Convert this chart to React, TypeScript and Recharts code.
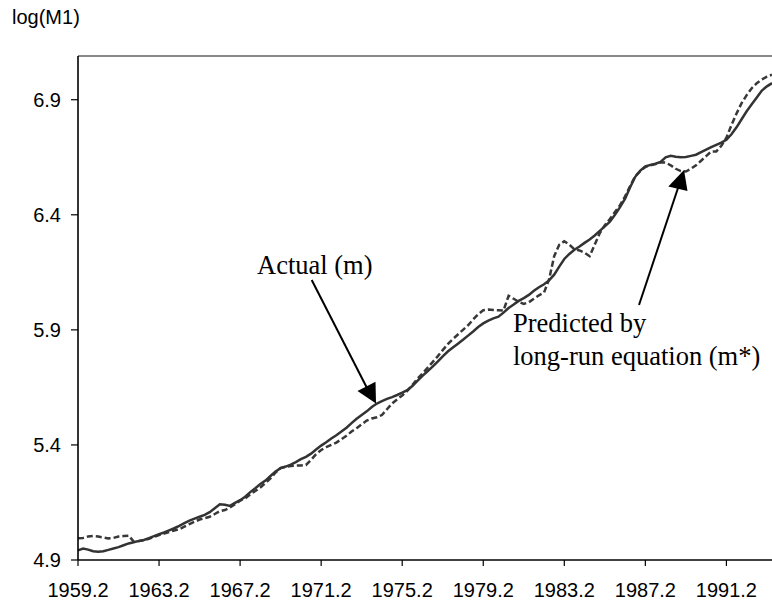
import React from 'react';
import { LineChart, Line, XAxis, YAxis, ReferenceLine } from 'recharts';

// log(M1), quarterly, 1959.2 .. 1993.3
const actual: number[] = [
  4.942, 4.950, 4.945, 4.938, 4.936, 4.938, 4.944, 4.950, 4.956, 4.964,
  4.972, 4.977, 4.983, 4.987, 4.995, 5.004, 5.012, 5.020, 5.029, 5.038,
  5.048, 5.060, 5.071, 5.080, 5.088, 5.096, 5.108, 5.125, 5.142, 5.140,
  5.135, 5.148, 5.160, 5.175, 5.195, 5.212, 5.230, 5.245, 5.265, 5.285,
  5.299, 5.306, 5.314, 5.325, 5.338, 5.348, 5.362, 5.380, 5.397, 5.412,
  5.428, 5.442, 5.458, 5.475, 5.495, 5.514, 5.530, 5.546, 5.565, 5.580,
  5.590, 5.600, 5.608, 5.617, 5.627, 5.638, 5.656, 5.678, 5.700, 5.720,
  5.740, 5.762, 5.785, 5.806, 5.823, 5.840, 5.857, 5.875, 5.893, 5.912,
  5.928, 5.940, 5.950, 5.957, 5.975, 5.995, 6.010, 6.026, 6.038, 6.052,
  6.070, 6.085, 6.098, 6.115, 6.140, 6.175, 6.208, 6.230, 6.248, 6.262,
  6.278, 6.293, 6.310, 6.330, 6.350, 6.370, 6.400, 6.433, 6.470, 6.520,
  6.565, 6.592, 6.610, 6.617, 6.622, 6.630, 6.650, 6.656, 6.652, 6.650,
  6.651, 6.656, 6.661, 6.672, 6.683, 6.694, 6.704, 6.714, 6.726, 6.750,
  6.780, 6.815, 6.850, 6.880, 6.910, 6.940, 6.958, 6.972,
];

const predicted: number[] = [
  4.994, 4.996, 5.002, 5.004, 5.002, 4.998, 4.994, 4.996, 5.002, 5.004,
  5.006, 4.980, 4.982, 4.986, 4.992, 5.000, 5.008, 5.015, 5.022, 5.028,
  5.034, 5.045, 5.056, 5.066, 5.076, 5.082, 5.088, 5.100, 5.112, 5.117,
  5.128, 5.142, 5.158, 5.168, 5.185, 5.200, 5.215, 5.235, 5.255, 5.280,
  5.300, 5.305, 5.308, 5.310, 5.311, 5.313, 5.335, 5.360, 5.378, 5.390,
  5.400, 5.410, 5.425, 5.440, 5.458, 5.473, 5.490, 5.506, 5.515, 5.520,
  5.530, 5.555, 5.580, 5.598, 5.615, 5.635, 5.660, 5.688, 5.710, 5.735,
  5.760, 5.785, 5.812, 5.838, 5.860, 5.880, 5.900, 5.920, 5.945, 5.968,
  5.985, 5.988, 5.986, 5.985, 5.984, 6.048, 6.035, 6.022, 6.013, 6.020,
  6.035, 6.050, 6.062, 6.120, 6.220, 6.270, 6.285, 6.270, 6.250, 6.245,
  6.235, 6.220, 6.270, 6.320, 6.355, 6.382, 6.412, 6.442, 6.480, 6.525,
  6.568, 6.590, 6.608, 6.615, 6.620, 6.628, 6.627, 6.615, 6.600, 6.590,
  6.588, 6.600, 6.615, 6.635, 6.655, 6.675, 6.675, 6.700, 6.735, 6.790,
  6.840, 6.885, 6.920, 6.950, 6.972, 6.988, 7.000, 7.009,
];

const xTickLabels: string[] = [
  '1959.2', '1963.2', '1967.2', '1971.2', '1975.2', '1979.2', '1983.2', '1987.2', '1991.2',
];
const yTicks: number[] = [4.9, 5.4, 5.9, 6.4, 6.9];
const yDomain: [number, number] = [4.9, 7.09];

const xTicks = xTickLabels.map((_, k) => k * 16);

const data = actual.map((a, i) => ({ i, actual: a, predicted: predicted[i] }));

const serif = '"Liberation Serif", "Times New Roman", serif';
const sans = '"Liberation Sans", Arial, sans-serif';

export default function App() {
  return (
    <div
      style={{
        position: 'absolute',
        left: 0,
        top: 0,
        width: 772,
        height: 607,
        overflow: 'hidden',
        background: '#fff',
        fontFamily: sans,
      }}
    >
      <LineChart
        width={772}
        height={607}
        data={data}
        margin={{ top: 56, right: 0, left: 10, bottom: 7 }}
      >
        <XAxis
          dataKey="i"
          type="number"
          domain={[0, actual.length - 1]}
          ticks={xTicks}
          interval={0}
          tickFormatter={(v: number) => xTickLabels[Math.round(v / 16)] ?? ''}
          height={40}
          tickSize={6}
          tickMargin={17}
          axisLine={{ stroke: '#000', strokeWidth: 1.6 }}
          tickLine={{ stroke: '#000', strokeWidth: 1.2 }}
          tick={{ fill: '#000', fontSize: 20, fontFamily: sans }}
        />
        <YAxis
          type="number"
          domain={yDomain}
          ticks={yTicks}
          interval={0}
          width={68}
          tickSize={7}
          tickMargin={10}
          tickFormatter={(v: number) => v.toFixed(1)}
          axisLine={{ stroke: '#000', strokeWidth: 1.6 }}
          tickLine={{ stroke: '#000', strokeWidth: 1.2 }}
          tick={{ fill: '#000', fontSize: 20, fontFamily: sans }}
        />
        <ReferenceLine y={yDomain[1]} stroke="#888" strokeWidth={2} ifOverflow="visible" />
        <Line
          type="linear"
          dataKey="predicted"
          stroke="#383838"
          strokeWidth={2.5}
          strokeDasharray="6 3"
          dot={false}
          activeDot={false}
          isAnimationActive={false}
        />
        <Line
          type="linear"
          dataKey="actual"
          stroke="#333"
          strokeWidth={2.5}
          dot={false}
          activeDot={false}
          isAnimationActive={false}
        />
      </LineChart>
      <svg
        width={772}
        height={607}
        style={{ position: 'absolute', left: 0, top: 0, pointerEvents: 'none' }}
      >
        <text x={12} y={24} fontFamily={sans} fontSize={20} fill="#000">
          log(M1)
        </text>
        <text x={257} y={274} fontFamily={serif} fontSize={26.5} fill="#000">
          Actual (m)
        </text>
        <text x={513} y={332} fontFamily={serif} fontSize={26.5} fill="#000">
          Predicted by
        </text>
        <text x={513} y={364.5} fontFamily={serif} fontSize={26.5} fill="#000">
          long-run equation (m*)
        </text>
        <line x1={311.7} y1={280} x2={367} y2={388} stroke="#000" strokeWidth={2} />
        <polygon points="357.5,391 375.5,381.7 376,403.5" fill="#000" />
        <line x1={639} y1={305} x2={678} y2={188} stroke="#000" strokeWidth={2} />
        <polygon points="668.3,186.5 687.5,191 684,170" fill="#000" />
      </svg>
    </div>
  );
}
